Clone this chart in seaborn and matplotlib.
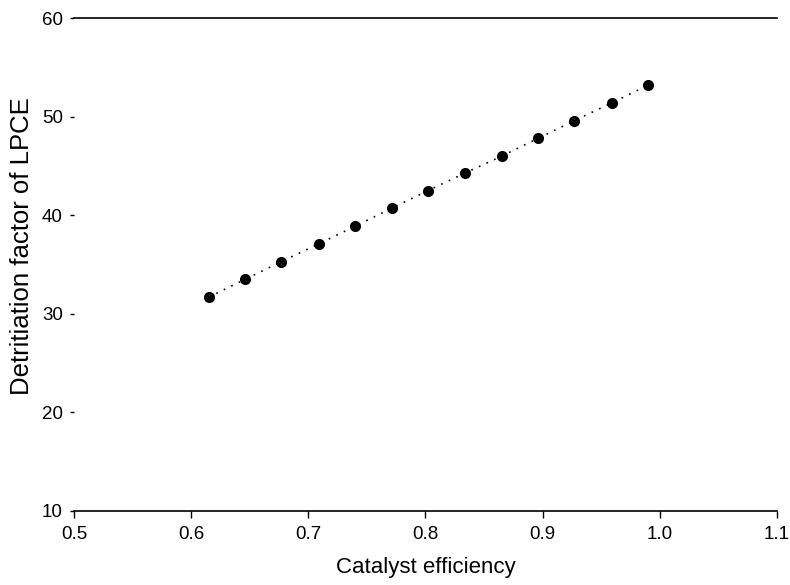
import matplotlib
matplotlib.use("Agg")
import matplotlib.pyplot as plt
import seaborn as sns
import pandas as pd

efficiency = [0.615, 0.646, 0.677, 0.709, 0.740, 0.771, 0.802, 0.834, 0.865, 0.896, 0.927, 0.959, 0.990]
detritiation = [31.7, 33.5, 35.3, 37.1, 38.9, 40.7, 42.5, 44.3, 46.0, 47.8, 49.6, 51.4, 53.2]
x_ticks = [0.5, 0.6, 0.7, 0.8, 0.9, 1.0, 1.1]
y_ticks = [10, 20, 30, 40, 50, 60]

df = pd.DataFrame({"eff": efficiency, "df": detritiation})

sns.set_theme(style="white")
plt.rcParams["font.family"] = ["Liberation Sans", "DejaVu Sans"]

fig = plt.figure(figsize=(7.9, 5.85), dpi=100)
ax = fig.add_axes([0.0937, 0.1265, 0.8898, 0.8425])

sns.lineplot(data=df, x="eff", y="df", ax=ax, color="black", linestyle=(0, (1, 4)),
             linewidth=1.2, zorder=2)
sns.scatterplot(data=df, x="eff", y="df", ax=ax, color="black", s=64, edgecolor="black",
                linewidth=0, zorder=3)

ax.set_xlim(0.5, 1.1)
ax.set_ylim(10, 60)
ax.set_xticks(x_ticks)
ax.set_xticklabels([f"{v:.1f}" for v in x_ticks], fontsize=13.5)
ax.set_yticks(y_ticks)
ax.set_yticklabels([str(v) for v in y_ticks], fontsize=13.5)

ax.set_xlabel("Catalyst efficiency", fontsize=16, color="black", labelpad=10)
ax.set_ylabel("Detritiation factor of LPCE", fontsize=18.5, color="black", labelpad=6)
ax.yaxis.label.set_y(0.5375)

for side in ["left", "right"]:
    ax.spines[side].set_visible(False)
for side in ["top", "bottom"]:
    ax.spines[side].set_visible(True)
    ax.spines[side].set_color("black")
    ax.spines[side].set_linewidth(1.2)

ax.tick_params(axis="x", direction="out", length=5, width=1, color="black", labelcolor="black", pad=6)
ax.tick_params(axis="y", direction="out", length=3, width=1, color="black", labelcolor="black", pad=5)
ax.tick_params(bottom=True, left=True)
ax.grid(False)

fig.savefig("out.png", dpi=100)
